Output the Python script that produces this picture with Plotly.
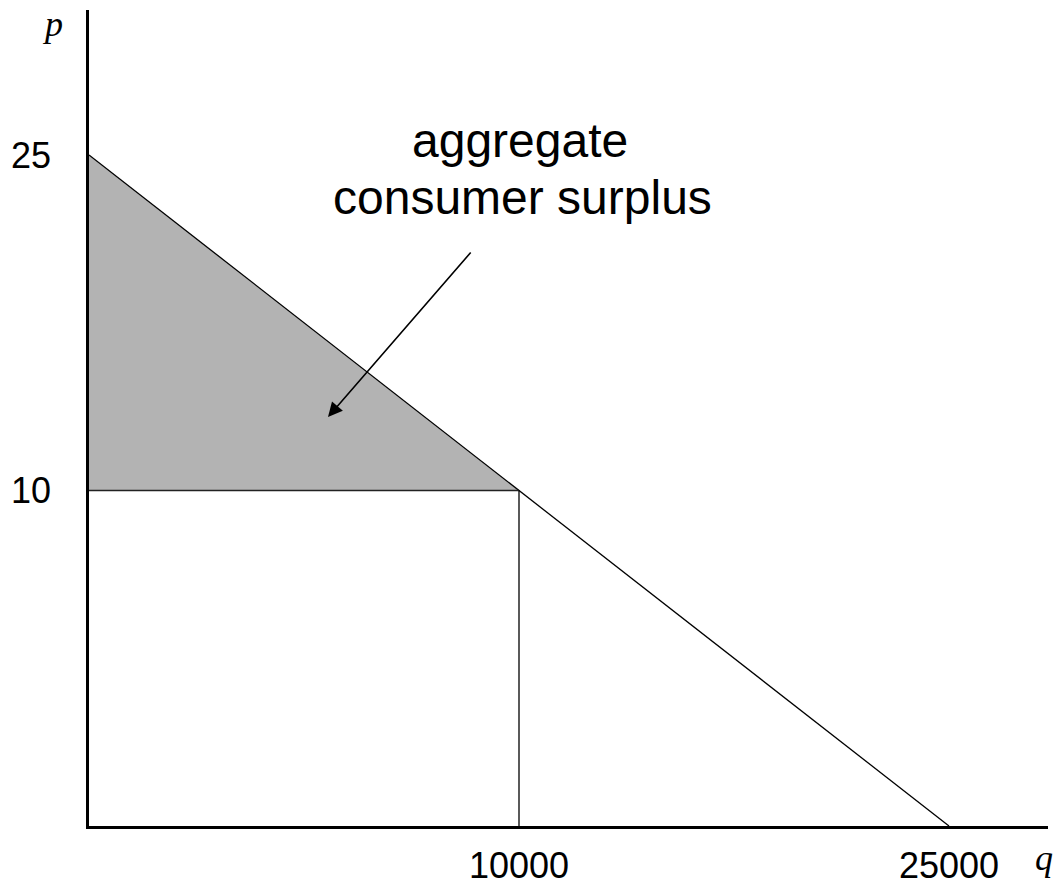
import numpy as np
import plotly.graph_objects as go

# ---- data (economic units) ----
q_ticks = [10000, 25000]
q_tick_labels = ["10000", "25000"]
p_ticks = [10, 25]
p_tick_labels = ["10", "25"]

demand_q = [0, 10000, 25000]
demand_p = [25, 10, 0]

market_q = 10000
market_p = 10

surplus_q = [0, 10000, 0, 0]
surplus_p = [25, 10, 10, 25]

# schematic (non-proportional) axis scales used in the original drawing
q_knots = [0, 10000, 25000]
p_knots = [0, 10, 25]
pos_knots = [0, 1, 2]


def qs(v):
    return np.interp(v, q_knots, pos_knots)


def ps(v):
    return np.interp(v, p_knots, pos_knots)


W, H = 1061, 888
ML, MR, MT, MB = 89, 13, 10, 62
PW, PH = W - ML - MR, H - MT - MB
XU = 430.0   # px per schematic unit (x)
YU = 335.5   # px per schematic unit (y)

fig = go.Figure()

fig.add_trace(go.Scatter(
    x=qs(surplus_q), y=ps(surplus_p), mode="lines", fill="toself",
    fillcolor="#b3b3b3", line=dict(width=0), hoverinfo="skip", showlegend=False))

fig.add_trace(go.Scatter(
    x=qs(demand_q), y=ps(demand_p), mode="lines",
    line=dict(color="black", width=1.3), showlegend=False))

fig.add_trace(go.Scatter(
    x=qs([0, market_q]), y=ps([market_p, market_p]), mode="lines",
    line=dict(color="#222222", width=1.6), showlegend=False))

fig.add_trace(go.Scatter(
    x=qs([market_q, market_q]), y=ps([market_p, 0]), mode="lines",
    line=dict(color="black", width=1.3), showlegend=False))


def px2x(px):
    return (px - ML) / XU


def py2y(py):
    return (H - MB - py) / YU


def pxp(px):
    return (px - ML) / PW


def pyp(py):
    return (H - MB - py) / PH


# arrow
head_x, head_y = px2x(328), py2y(417)
fig.add_annotation(x=head_x, y=head_y, xref="x", yref="y", ax=472 - 328, ay=251 - 417,
                   axref="pixel", ayref="pixel", text="", showarrow=True,
                   arrowhead=2, arrowsize=1.8, arrowwidth=1.6, arrowcolor="black")

label_font = dict(family="Liberation Sans, Arial", size=48, color="black")
fig.add_annotation(x=px2x(520), y=py2y(140), xref="x", yref="y", text="aggregate",
                   showarrow=False, font=label_font, xanchor="center", yanchor="middle")
fig.add_annotation(x=px2x(522.5), y=py2y(197), xref="x", yref="y", text="consumer surplus",
                   showarrow=False, font=label_font, xanchor="center", yanchor="middle")

serif = dict(family="Liberation Serif, Times New Roman", size=36, color="black")
fig.add_annotation(x=pxp(52), y=pyp(24), xref="paper", yref="paper", text="<i>p</i>",
                   showarrow=False, font=serif, xanchor="center", yanchor="middle")
fig.add_annotation(x=pxp(1044), y=pyp(858), xref="paper", yref="paper", text="<i>q</i>",
                   showarrow=False, font=serif, xanchor="center", yanchor="middle")

tick_font = dict(family="Liberation Sans, Arial", size=36, color="black")
fig.update_xaxes(range=[0, PW / XU], showgrid=False, zeroline=False, automargin=False,
                 showline=True, linecolor="black", linewidth=2.5,
                 tickvals=list(qs(q_ticks)), ticktext=q_tick_labels,
                 ticks="", tickfont=tick_font, ticklabelstandoff=6)
fig.update_yaxes(range=[0, PH / YU], showgrid=False, zeroline=False, automargin=False,
                 showline=True, linecolor="black", linewidth=2.5,
                 tickvals=list(ps(p_ticks)), ticktext=p_tick_labels,
                 ticks="", tickfont=tick_font, ticklabelstandoff=28)

fig.update_layout(width=W, height=H, margin=dict(l=ML, r=MR, t=MT, b=MB, pad=0),
                  plot_bgcolor="white", paper_bgcolor="white", showlegend=False)

fig.write_html("out.html", config={"displayModeBar": False},
               post_script="document.body.style.margin='0';")
